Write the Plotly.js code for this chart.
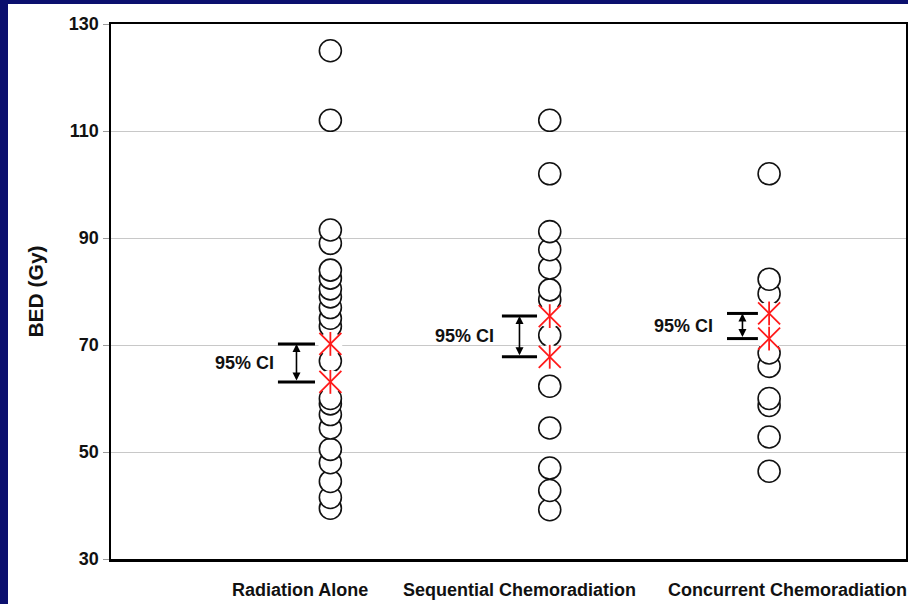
<!DOCTYPE html>
<html>
<head>
<meta charset="utf-8">
<script src="https://cdn.plot.ly/plotly-3.0.1.min.js"></script>
<style>
  html, body { margin: 0; padding: 0; background: #0b0f6e; width: 908px; height: 604px; overflow: hidden; }
  #chart { position: absolute; left: 8px; top: 4px; width: 900px; height: 600px; background: #ffffff; }
</style>
</head>
<body>
<div id="chart"></div>
<script>
// ---- data ----
const categories = ["Radiation Alone", "Sequential Chemoradiation", "Concurrent Chemoradiation"];
const radiationBED = [125, 112, 91.5, 89, 84, 82.5, 80.5, 79, 77, 75, 73.5, 67, 60, 59, 57, 54.5, 50.5, 48, 44.5, 41.5, 39.5];
const sequentialBED = [112, 102, 91.2, 87.8, 84.4, 80.3, 78.5, 71.8, 62.3, 54.5, 47, 42.8, 39.2];
const concurrentBED = [102, 82.3, 79.6, 68.5, 66, 60, 58.7, 52.8, 46.4];
// 95% confidence interval bounds (upper, lower) per group
const ciUpper = [70.2, 75.4, 75.9];
const ciLower = [63.1, 67.8, 71.2];
const ciLabel = "95% CI";
const yTicks = [30, 50, 70, 90, 110, 130];
const yTitle = "BED (Gy)";

// ---- layout constants (positions only) ----
const FONT = "Liberation Sans, Arial, sans-serif";
const barOffsets = [[-0.239, -0.070], [-0.218, -0.058], [-0.192, -0.051]];
const labelShift = [-0.139, -0.137, 0.084];

const groups = [radiationBED, sequentialBED, concurrentBED];
const traces = [];

groups.forEach((vals, i) => {
  const sorted = vals.slice().sort((a, b) => a - b);
  traces.push({
    type: "scatter", mode: "markers",
    x: sorted.map(() => i + 1), y: sorted,
    marker: { symbol: "circle", size: 22, color: "#ffffff", line: { color: "#111111", width: 1.6 } },
    hoverinfo: "y", showlegend: false, cliponaxis: false
  });
});

const ciX = [], ciY = [];
ciUpper.forEach((u, i) => { ciX.push(i + 1, i + 1); ciY.push(u, ciLower[i]); });

// white background behind asterisks
traces.push({
  type: "scatter", mode: "markers", x: ciX, y: ciY,
  marker: { symbol: "circle", size: 24, color: "#ffffff", line: { width: 0 } },
  hoverinfo: "skip", showlegend: false
});
traces.push({
  type: "scatter", mode: "markers", x: ciX, y: ciY,
  marker: { symbol: "x-thin-open", size: 22, color: "#ff1a1a", line: { color: "#ff1a1a", width: 1.8 } },
  hoverinfo: "y", showlegend: false
});
traces.push({
  type: "scatter", mode: "markers", x: ciX, y: ciY,
  marker: { symbol: "line-ns-open", size: 17, color: "#ff1a1a", line: { color: "#ff1a1a", width: 1.8 } },
  hoverinfo: "skip", showlegend: false
});

const shapes = [];
const annotations = [];
categories.forEach((c, i) => {
  const x0 = i + 1 + barOffsets[i][0], x1 = i + 1 + barOffsets[i][1];
  const xm = (x0 + x1) / 2;
  [ciUpper[i], ciLower[i]].forEach(v => {
    shapes.push({ type: "line", xref: "x", yref: "y", x0: x0, x1: x1, y0: v, y1: v,
      line: { color: "#000000", width: 3 } });
  });
  annotations.push({
    xref: "x", yref: "y", axref: "x", ayref: "y",
    x: xm, y: ciUpper[i], ax: xm, ay: ciLower[i],
    text: "", showarrow: true, arrowside: "end+start",
    arrowhead: 2, arrowsize: 1, arrowwidth: 1.6, arrowcolor: "#000000",
    standoff: 0, startstandoff: 0
  });
  annotations.push({
    xref: "x", yref: "y", x: i + 1 - 0.39, y: (ciUpper[i] + ciLower[i]) / 2,
    text: ciLabel, showarrow: false, xanchor: "center", yanchor: "middle",
    font: { family: FONT, size: 18, color: "#111111", weight: "bold" }
  });
  annotations.push({
    xref: "x", yref: "paper", x: i + 1 + labelShift[i], y: 0, yshift: -31,
    text: c, showarrow: false, xanchor: "center", yanchor: "middle",
    font: { family: FONT, size: 18, color: "#111111", weight: "bold" }
  });
});

const layout = {
  width: 900, height: 600,
  paper_bgcolor: "#ffffff", plot_bgcolor: "#ffffff",
  margin: { l: 103, r: 2, t: 20, b: 45 },
  showlegend: false,
  xaxis: {
    range: [0, 3.624], showgrid: false, zeroline: false, showticklabels: false, ticks: "",
    showline: true, linecolor: "#000000", linewidth: 2.5, mirror: true, fixedrange: true
  },
  yaxis: {
    range: [30, 130], tickvals: yTicks, ticktext: yTicks.map(String),
    showgrid: true, gridcolor: "#c8c8c8", gridwidth: 1, zeroline: false,
    ticks: "outside", ticklen: 6, tickcolor: "#9a9a9a", tickwidth: 1,
    showline: true, linecolor: "#000000", linewidth: 2.5, mirror: true,
    tickfont: { family: FONT, size: 18, color: "#111111", weight: "bold" },
    title: { text: yTitle, standoff: 20, font: { family: FONT, size: 21, color: "#111111", weight: "bold" } },
    fixedrange: true
  },
  shapes: shapes,
  annotations: annotations
};

Plotly.newPlot("chart", traces, layout, { displayModeBar: false, staticPlot: true });
</script>
</body>
</html>
